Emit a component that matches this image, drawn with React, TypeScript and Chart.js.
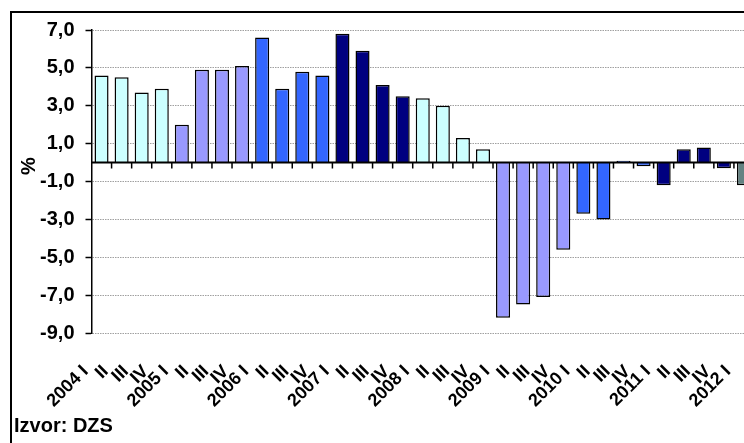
import React, { useEffect, useRef } from 'react';
import { Chart, registerables } from 'chart.js';

Chart.register(...registerables);

const categories = [
  '2004 I', 'II', 'III', 'IV',
  '2005 I', 'II', 'III', 'IV',
  '2006 I', 'II', 'III', 'IV',
  '2007 I', 'II', 'III', 'IV',
  '2008 I', 'II', 'III', 'IV',
  '2009 I', 'II', 'III', 'IV',
  '2010 I', 'II', 'III', 'IV',
  '2011 I', 'II', 'III', 'IV',
  '2012 I',
];

const growth = [
  4.6, 4.5, 3.7, 3.9,
  2.0, 4.9, 4.9, 5.1,
  6.6, 3.9, 4.8, 4.6,
  6.8, 5.9, 4.1, 3.5,
  3.4, 3.0, 1.3, 0.7,
  -8.2, -7.5, -7.1, -4.6,
  -2.7, -3.0, 0.1, -0.2,
  -1.2, 0.7, 0.8, -0.3,
  -1.2,
];

const yearColors = ['#CCFFFF', '#9999FF', '#3366FF', '#000080', '#CCFFFF', '#9999FF', '#3366FF', '#000080', '#648282'];

const yMin = -9;
const yMax = 7;
const yStep = 2;

const FONT = "'Liberation Sans', Arial, sans-serif";

const decor = {
  id: 'decor',
  beforeDraw(chart: any) {
    const ctx = chart.ctx;
    ctx.save();
    ctx.fillStyle = '#ffffff';
    ctx.fillRect(0, 0, chart.width, chart.height);
    ctx.strokeStyle = '#000000';
    ctx.lineWidth = 2;
    ctx.beginPath();
    ctx.moveTo(11, chart.height);
    ctx.lineTo(11, 12);
    ctx.lineTo(chart.width, 12);
    ctx.stroke();
    ctx.restore();
  },
  afterDatasetsDraw(chart: any) {
    const { ctx, chartArea, scales } = chart;
    const x = scales.x;
    const y = scales.y;
    const y0 = y.getPixelForValue(0);
    ctx.save();
    ctx.strokeStyle = '#000000';
    ctx.lineWidth = 2;
    ctx.beginPath();
    ctx.moveTo(chartArea.left, y0);
    ctx.lineTo(chartArea.right, y0);
    ctx.stroke();
    ctx.lineWidth = 1.5;
    ctx.beginPath();
    for (let i = 1; i <= categories.length; i++) {
      const px = x.getPixelForValue(i - 0.5);
      ctx.moveTo(px, y0);
      ctx.lineTo(px, y0 + 6);
    }
    ctx.stroke();

    ctx.fillStyle = '#000000';
    ctx.font = `bold 20px ${FONT}`;
    ctx.save();
    ctx.translate(29, 166);
    ctx.rotate(-Math.PI / 2);
    ctx.textAlign = 'center';
    ctx.textBaseline = 'middle';
    ctx.fillText('%', 0, 0);
    ctx.restore();

    ctx.font = `bold 20px ${FONT}`;
    ctx.textAlign = 'left';
    ctx.textBaseline = 'alphabetic';
    ctx.fillText('Izvor: DZS', 14, 432);
    ctx.restore();
  },
};

export default function App() {
  const ref = useRef<HTMLCanvasElement | null>(null);

  useEffect(() => {
    if (!ref.current) return;
    const chart = new Chart(ref.current, {
      type: 'bar',
      data: {
        labels: categories,
        datasets: [
          {
            data: growth,
            backgroundColor: growth.map((_, i) => yearColors[Math.floor(i / 4)]),
            borderColor: '#000000',
            borderWidth: 1.5,
            barPercentage: 0.7,
            categoryPercentage: 1,
          },
        ],
      },
      options: {
        animation: false,
        responsive: false,
        devicePixelRatio: 1,
        layout: { padding: { top: 30, right: 6, left: 0, bottom: 0 } },
        plugins: { legend: { display: false }, tooltip: { enabled: false } },
        scales: {
          x: {
            offset: true,
            grid: { display: false, drawTicks: false },
            border: { display: false },
            ticks: {
              autoSkip: false,
              maxRotation: 45,
              minRotation: 45,
              color: '#000000',
              padding: 28,
              labelOffset: -16,
              font: { family: FONT, size: 18, weight: 'bold' },
            },
            afterFit: (s: any) => {
              s.height = 110;
              s.paddingLeft = 0;
              s.paddingRight = 0;
            },
          },
          y: {
            min: yMin,
            max: yMax,
            ticks: {
              stepSize: yStep,
              color: '#000000',
              padding: 11,
              font: { family: FONT, size: 20, weight: 'bold' },
              callback: (v: any) => Number(v).toFixed(1).replace('.', ','),
            },
            grid: {
              color: '#a0a0a0',
              lineWidth: 1,
              drawTicks: true,
              tickLength: 6,
              tickColor: '#000000',
              tickWidth: 1.5,
            },
            border: { display: true, color: '#000000', width: 1.5, dash: [1.5, 1] },
            afterFit: (s: any) => { s.width = 91.5; },
          },
        },
      },
      plugins: [decor],
    });
    return () => chart.destroy();
  }, []);

  return (
    <div style={{ position: 'fixed', left: 0, top: 0, width: 744, height: 443, overflow: 'hidden', background: '#fff' }}>
      <canvas ref={ref} width={760} height={443} style={{ display: 'block' }} />
    </div>
  );
}
